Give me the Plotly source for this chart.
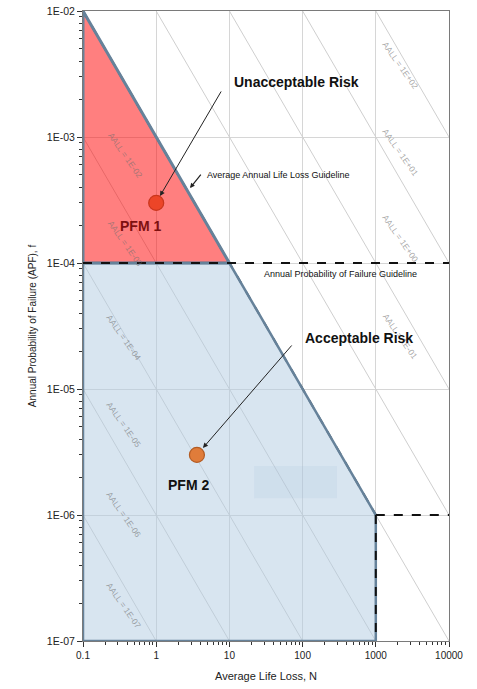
import numpy as np
import plotly.graph_objects as go

# ---------------- data ----------------
x_ticks = [0.1, 1, 10, 100, 1000, 10000]
x_ticktext = ["0.1", "1", "10", "100", "1000", "10000"]
y_ticks = [1e-7, 1e-6, 1e-5, 1e-4, 1e-3, 1e-2]
y_ticktext = ["1E-07", "1E-06", "1E-05", "1E-04", "1E-03", "1E-02"]

aall_values = [1e-7, 1e-6, 1e-5, 1e-4, 1e-3, 1e-2, 1e-1, 1e0, 1e1]
aall_labels = ["AALL = 1E+02", "AALL = 1E+01", "AALL = 1E+00", "AALL = 1E-01",
               "AALL = 1E-02", "AALL = 1E-03", "AALL = 1E-04", "AALL = 1E-05",
               "AALL = 1E-06", "AALL = 1E-07"]
aall_label_logx = [3.331, 3.331, 3.331, 3.331, -0.426, -0.426, -0.44, -0.44, -0.44, -0.44]
aall_label_logy = [-2.429, -3.119, -3.802, -4.579, -3.143, -3.841, -4.595, -5.286, -6.0, -6.722]

apf_guideline = 1e-4
aall_guideline = 1e-3
n_limit = 1000
n_min, n_max = 0.1, 10000
f_min, f_max = 1e-7, 1e-2

pfm_names = ["PFM 1", "PFM 2"]
pfm_N = [1.0, 3.6]
pfm_f = [3e-4, 3e-6]

patch_N = [21.7, 295]
patch_f = [1.36e-6, 2.45e-6]

FONT = "Arial, Liberation Sans, sans-serif"
BORDER = "#66829a"

fig = go.Figure()

# diagonal AALL iso-lines
dx, dy = [], []
for a in aall_values:
    n0 = max(n_min, a / f_max)
    n1 = min(n_max, a / f_min)
    if n0 < n1:
        dx += [n0, n1, None]
        dy += [a / n0, a / n1, None]
fig.add_trace(go.Scatter(x=dx, y=dy, mode="lines",
                         line=dict(color="#cfcfcf", width=1), hoverinfo="skip"))

# black dashed AALL guideline
fig.add_trace(go.Scatter(x=[n_min, n_limit],
                         y=[aall_guideline / n_min, aall_guideline / n_limit],
                         mode="lines", line=dict(color="#111111", width=2, dash="dash"),
                         hoverinfo="skip"))

# acceptable (blue) region
n_knee = aall_guideline / apf_guideline
bx = [n_min, n_min, n_knee, n_limit, n_limit, n_min]
by = [f_min, apf_guideline, apf_guideline, aall_guideline / n_limit, f_min, f_min]
fig.add_trace(go.Scatter(x=bx, y=by, mode="lines", fill="toself",
                         fillcolor="rgba(178,204,226,0.5)",
                         line=dict(color=BORDER, width=2.5), hoverinfo="skip"))

# faint patch box
fig.add_trace(go.Scatter(x=[patch_N[0], patch_N[1], patch_N[1], patch_N[0], patch_N[0]],
                         y=[patch_f[0], patch_f[0], patch_f[1], patch_f[1], patch_f[0]],
                         mode="lines", fill="toself", fillcolor="rgba(160,190,215,0.15)",
                         line=dict(width=0), hoverinfo="skip"))

# unacceptable (red) region
rx = [n_min, n_min, n_knee, n_min]
ry = [apf_guideline, aall_guideline / n_min, apf_guideline, apf_guideline]
fig.add_trace(go.Scatter(x=rx, y=ry, mode="lines", fill="toself",
                         fillcolor="rgba(255,0,0,0.5)",
                         line=dict(color=BORDER, width=3), hoverinfo="skip"))

# APF guideline dashed lines
fig.add_trace(go.Scatter(x=[n_min, n_max], y=[apf_guideline, apf_guideline], mode="lines",
                         line=dict(color="#111111", width=2, dash="dash"), hoverinfo="skip"))
fig.add_trace(go.Scatter(x=[n_limit, n_max, None, n_limit, n_limit],
                         y=[aall_guideline / n_limit, aall_guideline / n_limit, None,
                            aall_guideline / n_limit, f_min],
                         mode="lines", line=dict(color="#111111", width=2, dash="dash"),
                         hoverinfo="skip"))

# PFM points
fig.add_trace(go.Scatter(x=pfm_N, y=pfm_f, mode="markers",
                         marker=dict(size=15, color=["#ec4528", "#e07c3a"],
                                     line=dict(color=["#c9361d", "#b35c24"], width=1.2)),
                         hoverinfo="skip"))

annotations = []
for t, ax_, ay_ in zip(aall_labels, aall_label_logx, aall_label_logy):
    annotations.append(dict(x=ax_, y=ay_, xref="x", yref="y", text=t, showarrow=False,
                            textangle=55, font=dict(family=FONT, size=8.5,
                                                    color="rgba(110,110,110,0.6)")))

annotations += [
    dict(x=1.923, y=-2.563, text="<b>Unacceptable Risk</b>", showarrow=False,
         font=dict(family=FONT, size=14, color="#111111")),
    dict(x=2.770, y=-4.595, text="<b>Acceptable Risk</b>", showarrow=False,
         font=dict(family=FONT, size=14, color="#111111")),
    dict(x=-0.208, y=-3.706, text="<b>PFM 1</b>", showarrow=False,
         font=dict(family=FONT, size=14, color="#7e1010")),
    dict(x=0.448, y=-5.762, text="<b>PFM 2</b>", showarrow=False,
         font=dict(family=FONT, size=14, color="#111111")),
    dict(x=0.667, y=-3.302, text="Average Annual Life Loss Guideline", showarrow=False,
         xanchor="left", font=dict(family=FONT, size=9, color="#111111")),
    dict(x=1.445, y=-4.087, text="Annual Probability of Failure Guideline", showarrow=False,
         xanchor="left", font=dict(family=FONT, size=9, color="#111111")),
    dict(x=0.052, y=-3.468, text="", showarrow=True, ax=62, ay=-106,
         arrowhead=2, arrowsize=1, arrowwidth=1, arrowcolor="#222222"),
    dict(x=0.639, y=-5.468, text="", showarrow=True, ax=90, ay=-104,
         arrowhead=2, arrowsize=1, arrowwidth=1, arrowcolor="#222222"),
    dict(x=0.462, y=-3.405, text="", showarrow=True, ax=12, ay=-15,
         arrowhead=2, arrowsize=0.8, arrowwidth=1.2, arrowcolor="#222222"),
]
for a in annotations:
    a.setdefault("xref", "x")
    a.setdefault("yref", "y")

x_minor = [m * 10.0 ** d for d in range(-1, 4) for m in range(2, 10)]
y_minor = [m * 10.0 ** d for d in range(-7, -2) for m in range(2, 10)]

fig.update_layout(
    width=477, height=689,
    margin=dict(l=83, r=28, t=11, b=48, autoexpand=False),
    paper_bgcolor="white", plot_bgcolor="white",
    showlegend=False,
    font=dict(family=FONT, color="#222222"),
    annotations=annotations,
)
fig.update_xaxes(type="log", range=[np.log10(n_min), np.log10(n_max)],
                 automargin=False,
                 tickvals=x_ticks, ticktext=x_ticktext,
                 tickfont=dict(size=10, color="#222222"),
                 showgrid=True, gridcolor="#d6d6d6", gridwidth=1,
                 showline=True, linecolor="#7a7a7a", linewidth=1, mirror=True,
                 ticks="outside", ticklen=5, tickcolor="#333333",
                 minor=dict(tickmode="array", ticks="outside", ticklen=3, tickcolor="#333333",
                            tickvals=x_minor, showgrid=False),
                 zeroline=False,
                 title=dict(text="Average Life Loss, N", font=dict(size=11, color="#222222"),
                            standoff=12))
fig.update_yaxes(type="log", range=[np.log10(f_min), np.log10(f_max)],
                 automargin=False,
                 tickvals=y_ticks, ticktext=y_ticktext,
                 tickfont=dict(size=10.5, color="#222222"),
                 showgrid=True, gridcolor="#d6d6d6", gridwidth=1,
                 showline=True, linecolor="#7a7a7a", linewidth=1, mirror=True,
                 ticks="outside", ticklen=5, tickcolor="#333333",
                 minor=dict(tickmode="array", ticks="outside", ticklen=3, tickcolor="#333333",
                            tickvals=y_minor, showgrid=False),
                 zeroline=False,
                 title=dict(text="Annual Probability of Failure (APF), f",
                            font=dict(size=10, color="#222222"), standoff=8))

fig.write_html("out.html", config={"displayModeBar": False},
               post_script="document.body.style.margin='0px';")
